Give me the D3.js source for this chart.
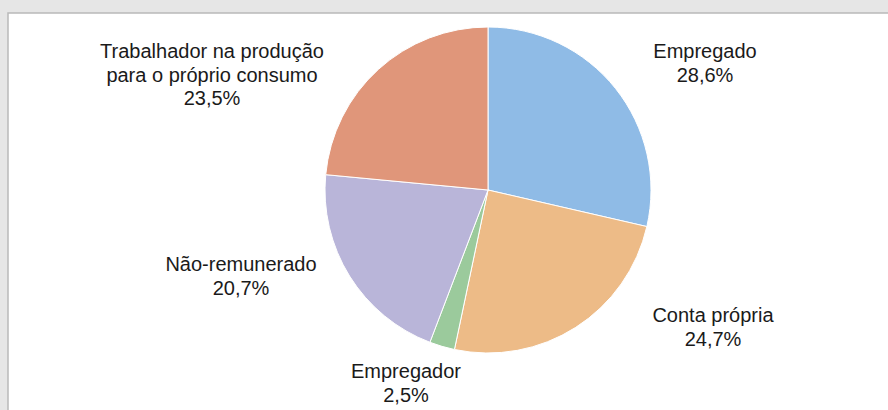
<!DOCTYPE html>
<html>
<head>
<meta charset="utf-8">
<script src="https://cdn.jsdelivr.net/npm/d3@7"></script>
<style>
  body { margin: 0; background: #e6e6e6; }
  svg { display: block; }
</style>
</head>
<body>
<script>
var width = 888;
var height = 410;

// data
var categories = ["Empregado", "Conta própria", "Empregador", "Não-remunerado", "Trabalhador na produção para o próprio consumo"];
var labelLines = [["Empregado"], ["Conta própria"], ["Empregador"], ["Não-remunerado"], ["Trabalhador na produção", "para o próprio consumo"]];
var values = [28.6, 24.7, 2.5, 20.7, 23.5];
var colors = ["#8fbbe6", "#edbb87", "#9bca9c", "#b9b5d9", "#e0967a"];
// label anchor (centre x, first baseline y) per slice
var labelPos = [[705, 58], [713, 322], [406, 378], [241, 271], [212, 58]];

var cx = 488, cy = 190, r = 163;
var lineH = 23.5;
var fmt = function(v) { return d3.format(".1f")(v).replace(".", ",") + "%"; };

var svg = d3.select("body").append("svg")
    .attr("width", width)
    .attr("height", height);

// panel
svg.append("rect")
  .attr("x", 8).attr("y", 13)
  .attr("width", width).attr("height", height)
  .attr("fill", "#fff")
  .attr("stroke", "#b9b9b9")
  .attr("stroke-width", 1.5);

var pie = d3.pie().sort(null).value(function(d) { return d; });
var arc = d3.arc().innerRadius(0).outerRadius(r);

var g = svg.append("g").attr("transform", "translate(" + cx + "," + cy + ")");
g.selectAll("path")
  .data(pie(values))
  .enter()
  .append("path")
  .attr("d", arc)
  .attr("fill", function(d, i) { return colors[i]; })
  .attr("stroke", "#fff")
  .attr("stroke-width", 1);

// labels
var lab = svg.selectAll(".lab")
  .data(values)
  .enter()
  .append("text")
  .attr("class", "lab")
  .attr("text-anchor", "middle")
  .attr("font-family", "'Liberation Sans', Arial, sans-serif")
  .attr("font-size", "20px")
  .attr("fill", "#1a1a1a");

lab.each(function(d, i) {
  var t = d3.select(this);
  var lines = labelLines[i].concat([fmt(d)]);
  lines.forEach(function(s, k) {
    t.append("tspan")
      .attr("x", labelPos[i][0])
      .attr("y", labelPos[i][1] + k * lineH)
      .text(s);
  });
});
</script>
</body>
</html>
